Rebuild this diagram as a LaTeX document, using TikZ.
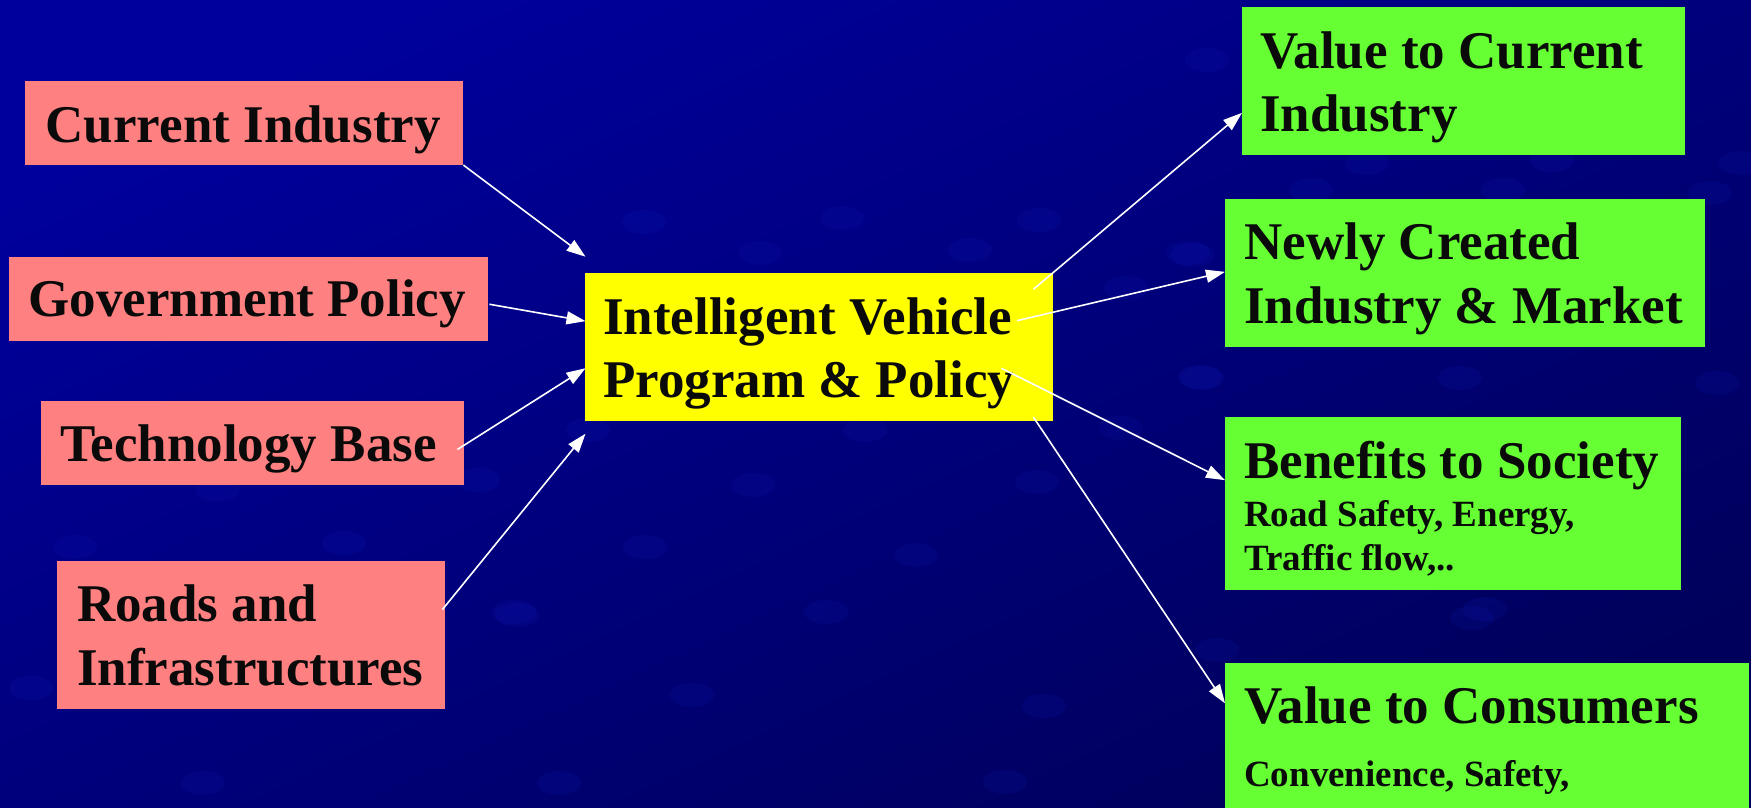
\documentclass[tikz,border=0pt]{standalone}
\usepackage{fontspec}
\setmainfont{Liberation Serif}
\usetikzlibrary{arrows.meta,calc}

\definecolor{bgtop}{RGB}{0,0,156}
\definecolor{bgbot}{RGB}{0,0,92}
\definecolor{blob}{RGB}{20,30,190}
\definecolor{pinkfill}{RGB}{255,128,128}
\definecolor{yellowfill}{RGB}{255,255,0}
\definecolor{greenfill}{RGB}{102,255,51}
\definecolor{ink}{RGB}{10,10,10}

\tikzset{
  box/.style={rectangle, inner sep=0pt, anchor=north west},
  inbox/.style={box, fill=pinkfill},
  hubbox/.style={box, fill=yellowfill},
  outbox/.style={box, fill=greenfill},
  big/.style={inner sep=0pt, anchor=base west, text=ink,
    font=\fontsize{53}{64}\selectfont\bfseries},
  small/.style={inner sep=0pt, anchor=base west, text=ink,
    font=\fontsize{37}{44}\selectfont\bfseries},
  arr/.style={draw=white, line width=1.6pt,
    -{Triangle[length=19pt,width=13pt]}},
}

\begin{document}
\begin{tikzpicture}[x=1pt,y=-1pt]
\useasboundingbox (0,0) rectangle (1751,807);
\clip (0,0) rectangle (1751,807);

% background
\shade[top color=bgtop, bottom color=bgbot, shading angle=25]
  (0,0) rectangle (1751,807);
\foreach \bx/\by in {478/480,344/543,75/547,218/490,517/615,31/688,203/783,559/783,
  644/222,842/218,1039/220,760/253,970/250,1126/288,1193/255,588/430,865/430,
  1037/482,753/485,1121/428,1202/378,1207/60,1367/163,1311/190,1503/190,1552/160,
  1710/193,1188/253,1740/163,1200/377,1460/378,1717/383,1472/618,916/555,826/612,
  645/547,514/612,1044/706,692/695,1217/650,1485/609,1452/782,1005/782}
  \fill[blob, opacity=0.14] (\bx,\by) ellipse [x radius=22, y radius=12];

% input boxes
\node[inbox, minimum width=438.1pt, minimum height=83.7pt] (ci) at (24.9,81) {};
\node[inbox, minimum width=478.8pt, minimum height=83.7pt] (gp) at (9.2,257) {};
\node[inbox, minimum width=423pt, minimum height=83.7pt] (tb) at (41,401) {};
\node[inbox, minimum width=388pt, minimum height=147.7pt] (ri) at (57,561) {};

% central box
\node[hubbox, minimum width=468.2pt, minimum height=147.7pt] (iv) at (584.8,273) {};

% output boxes
\node[outbox, minimum width=443pt, minimum height=147.7pt] (vci) at (1242,7) {};
\node[outbox, minimum width=480pt, minimum height=147.7pt] (nc) at (1225,199) {};
\node[outbox, minimum width=455.5pt, minimum height=172.7pt] (bs) at (1225,417) {};
\node[outbox, minimum width=524pt, minimum height=170pt] (vc) at (1225,663) {};

% labels
\node[big] (ci-t) at (45.5,142.7) {Current Industry};
\node[big] (gp-t) at (28.5,316.7) {Government Policy};
\node[big] (tb-t) at (60,461.7) {Technology Base};
\node[big] (ri-t1) at (77,621) {Roads and};
\node[big] (ri-t2) at (77,685) {Infrastructures};

\node[big] (iv-t1) at (603,334) {Intelligent Vehicle};
\node[big] (iv-t2) at (603,397.7) {Program \& Policy};

\node[big] (vci-t1) at (1260,68.3) {Value to Current};
\node[big] (vci-t2) at (1260,131.7) {Industry};
\node[big] (nc-t1) at (1244,259.3) {Newly Created};
\node[big] (nc-t2) at (1244,323.3) {Industry \& Market};
\node[big] (bs-t1) at (1244,478.3) {Benefits to Society};
\node[small] (bs-t2) at (1244,526.7) {Road Safety, Energy,};
\node[small] (bs-t3) at (1244,570.7) {Traffic flow,..};
\node[big] (vc-t1) at (1244,723.3) {Value to Consumers};
\node[small] (vc-t2) at (1244,786.7) {Convenience, Safety,};

% inputs into the program
\draw[arr] (ci.south east) -- ($(iv.north west)+(0.7,-16.3)$);
\draw[arr] ($(gp.east)+(1,5.2)$) -- ($(iv.west)+(0.7,-25.9)$);
\draw[arr] ($(tb.east)+(-7,6.4)$) -- ($(iv.west)+(0.7,21.2)$);
\draw[arr] ($(ri.east)+(-3,-25.5)$) -- ($(iv.south west)+(0.7,12.6)$);

% outcomes of the program
\draw[arr] ($(iv.north east)+(-20,16.3)$) -- ($(vci.west)+(0,31.8)$);
\draw[arr] ($(iv.north east)+(-36.5,47.7)$) -- ($(nc.west)+(0,-1.2)$);
\draw[arr] ($(iv.north east)+(-52,95.3)$) -- ($(bs.west)+(0,-23.4)$);
\draw[arr] ($(iv.south east)+(-20,-4)$) -- ($(vc.north west)+(0,40.3)$);
\end{tikzpicture}
\end{document}
